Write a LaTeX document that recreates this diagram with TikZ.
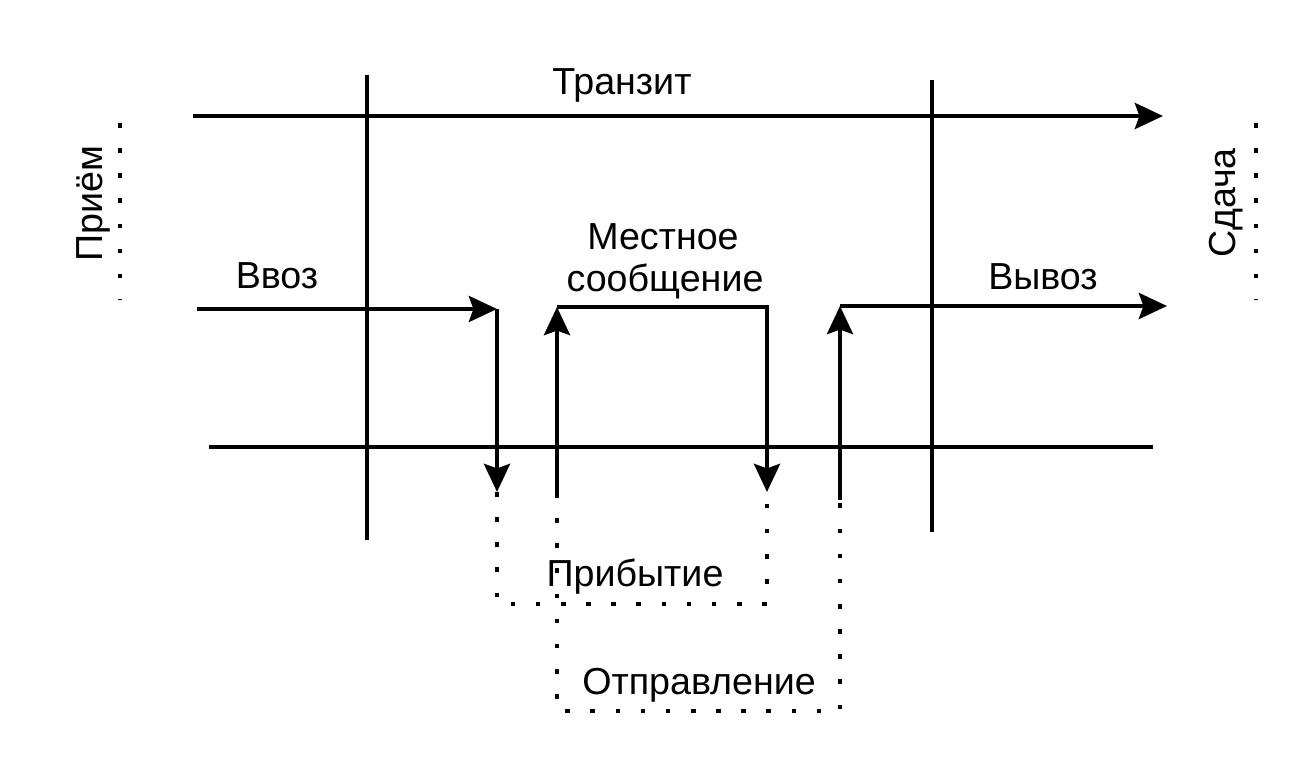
\documentclass[tikz,border=0pt]{standalone}
\usepackage{fontspec}
\setmainfont{Liberation Sans}
\usepackage{tikz}
\usetikzlibrary{arrows.meta}
\tikzstyle{line} = [line width=1.14pt]
\tikzstyle{arrow} = [line, ->, >={Stealth[length=8pt,width=7.4pt,inset=1.3pt]}]
\tikzstyle{dots} = [line width=1.3pt, dash pattern=on 1.3pt off 5.85pt]
\tikzstyle{label} = [font=\fontsize{10.7}{12.5}\selectfont, inner sep=0pt, anchor=base]

\begin{document}
\begin{tikzpicture}[x=0.01cm, y=-0.01cm]
\useasboundingbox (0,0) rectangle (1302,761);

% points
\coordinate (recvTop) at (120,123);
\coordinate (recvBot) at (120,300);
\coordinate (handTop) at (1256,123);
\coordinate (handBot) at (1256,300);
\coordinate (bordL1) at (367,75);
\coordinate (bordL2) at (367,540);
\coordinate (bordR1) at (932,80);
\coordinate (bordR2) at (932,532);
\coordinate (tr1) at (193,116);
\coordinate (tr2) at (1163,116);
\coordinate (st1) at (209,447);
\coordinate (st2) at (1153,447);
\coordinate (in1) at (197,309);
\coordinate (in2) at (497,309);
\coordinate (in3) at (497,492);
\coordinate (loc1) at (557,493);
\coordinate (loc2) at (557,307);
\coordinate (loc3) at (767,307);
\coordinate (loc4) at (767,492);
\coordinate (out1) at (840,500);
\coordinate (out2) at (840,306);
\coordinate (out3) at (1167,306);
\coordinate (arr1) at (497,604);
\coordinate (arr2) at (767,604);
\coordinate (dep1) at (557,711);
\coordinate (dep2) at (840,711);

% labels
\node (transit)[label] at (622,95) {Транзит};
\node (import)[label] at (277,289) {Ввоз};
\node (export)[label] at (1043,290) {Вывоз};
\node (localA)[label] at (663,250) {Местное};
\node (localB)[label] at (665,292) {сообщение};
\node (arrival)[label] at (635,587) {Прибытие};
\node (depart)[label] at (699,695) {Отправление};
\node (receive)[label, rotate=90] at (102,204) {Приём};
\node (handover)[label, rotate=90] at (1235,203) {Сдача};

% lines
\draw[dots](recvTop) -- (recvBot);
\draw[dots](handTop) -- (handBot);
\draw[line](bordL1) -- (bordL2);
\draw[line](bordR1) -- (bordR2);
\draw[line](st1) -- (st2);
\draw[arrow](tr1) -- (tr2);
\draw[arrow](in1) -- (in2);
\draw[arrow](in2) -- (in3);
\draw[arrow](loc1) -- (loc2);
\draw[arrow](loc2) -- (loc3) -- (loc4);
\draw[arrow](out1) -- (out2);
\draw[arrow](out2) -- (out3);
\draw[dots](in3) -- (arr1) -- (arr2) -- (loc4);
\draw[dots](loc1) -- (dep1) -- (dep2) -- (out1);

\end{tikzpicture}
\end{document}
